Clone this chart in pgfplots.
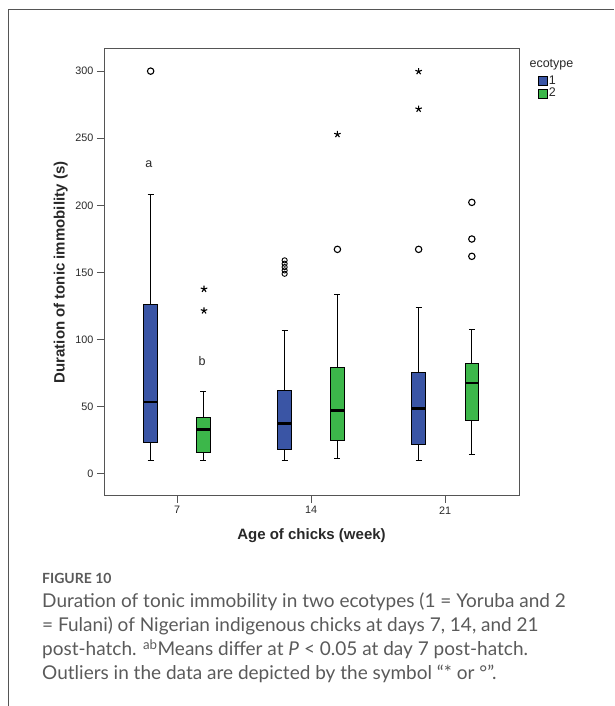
\documentclass[border=0pt]{standalone}
\usepackage{fontspec}
\setmainfont{Liberation Sans}
\newfontfamily\capfont{Lato}
\usepackage{pgfplots}
\pgfplotsset{compat=1.18}
\definecolor{box1}{RGB}{58,85,165}
\definecolor{box2}{RGB}{60,183,74}
\definecolor{framegray}{RGB}{85,85,85}
\definecolor{tickgray}{RGB}{40,40,40}
\definecolor{capgray}{RGB}{90,90,90}
\begin{document}
\begin{tikzpicture}
\useasboundingbox (0pt,0pt) rectangle (614pt,706pt);
\draw[framegray, line width=1pt] (8pt,0pt) -- (8pt,696pt) -- (614pt,696pt);
\begin{axis}[
  at={(104pt,210pt)}, anchor=south west, scale only axis,
  width=415pt, height=447pt,
  xmin=-0.545, xmax=2.552, ymin=-16.6, ymax=316.5,
  xtick={0,1,2}, xticklabels={7,14,21},
  ytick={0,50,100,150,200,250,300},
  xtick pos=bottom, ytick pos=left, tick align=outside, major tick length=7pt,
  axis line style={framegray,line width=1pt},
  every tick/.style={framegray,line width=1pt},
  tick label style={font=\fontsize{10.8}{12}\selectfont, text=tickgray},
  /pgf/number format/assume math mode=true,
  xlabel={Age of chicks (week)}, ylabel={Duration of tonic immobility (s)},
  label style={font=\bfseries\fontsize{15}{17}\selectfont, text=tickgray},
  xlabel style={at={(axis description cs:0.5,-0.088)}, anchor=center},
  ylabel style={at={(axis description cs:-0.104,0.5)}, anchor=center},
  clip=false,
  unbounded coords=jump,
  legend style={at={(axis description cs:1.045,0.942)}, anchor=north west, draw=none, fill=none,
    inner sep=0pt, row sep=0pt, font=\fontsize{12.5}{12.5}\selectfont,
    nodes={inner sep=1pt, text=tickgray}},
  legend cell align=left,
]
% ---------- whiskers with caps ----------
\addplot[black, line width=0.8pt, forget plot] coordinates {
  (-0.197,126.2) (-0.197,208) (nan,nan) (-0.2195,208) (-0.1745,208) (nan,nan)
  (-0.197,23.6) (-0.197,10) (nan,nan) (-0.2195,10) (-0.1745,10) (nan,nan)
  (0.197,42.2) (0.197,61.4) (nan,nan) (0.1745,61.4) (0.2195,61.4) (nan,nan)
  (0.197,16) (0.197,10) (nan,nan) (0.1745,10) (0.2195,10) (nan,nan)
  (0.803,61.9) (0.803,106.6) (nan,nan) (0.7805,106.6) (0.8255,106.6) (nan,nan)
  (0.803,18.2) (0.803,10) (nan,nan) (0.7805,10) (0.8255,10) (nan,nan)
  (1.197,79.3) (1.197,133.9) (nan,nan) (1.1745,133.9) (1.2195,133.9) (nan,nan)
  (1.197,24.9) (1.197,11.2) (nan,nan) (1.1745,11.2) (1.2195,11.2) (nan,nan)
  (1.803,75.6) (1.803,124) (nan,nan) (1.7805,124) (1.8255,124) (nan,nan)
  (1.803,22.1) (1.803,10) (nan,nan) (1.7805,10) (1.8255,10) (nan,nan)
  (2.2,82.5) (2.2,107.8) (nan,nan) (2.1775,107.8) (2.2225,107.8) (nan,nan)
  (2.2,39.5) (2.2,14.2) (nan,nan) (2.1775,14.2) (2.2225,14.2)
};
% ---------- boxes (Q1 to Q3) ----------
\addplot[fill=box1, draw=black, line width=0.7pt, forget plot] coordinates {(-0.249,23.6) (-0.145,23.6) (-0.145,126.2) (-0.249,126.2)} --cycle;
\addplot[fill=box2, draw=black, line width=0.7pt, forget plot] coordinates {(0.145,16) (0.249,16) (0.249,42.2) (0.145,42.2)} --cycle;
\addplot[fill=box1, draw=black, line width=0.7pt, forget plot] coordinates {(0.751,18.2) (0.855,18.2) (0.855,61.9) (0.751,61.9)} --cycle;
\addplot[fill=box2, draw=black, line width=0.7pt, forget plot] coordinates {(1.145,24.9) (1.249,24.9) (1.249,79.3) (1.145,79.3)} --cycle;
\addplot[fill=box1, draw=black, line width=0.7pt, forget plot] coordinates {(1.751,22.1) (1.855,22.1) (1.855,75.6) (1.751,75.6)} --cycle;
\addplot[fill=box2, draw=black, line width=0.7pt, forget plot] coordinates {(2.148,39.5) (2.252,39.5) (2.252,82.5) (2.148,82.5)} --cycle;
% ---------- medians ----------
\addplot[black, line width=2.4pt, forget plot] coordinates {
  (-0.249,53.4) (-0.145,53.4) (nan,nan)
  (0.145,33) (0.249,33) (nan,nan)
  (0.751,37.5) (0.855,37.5) (nan,nan)
  (1.145,47.2) (1.249,47.2) (nan,nan)
  (1.751,48.7) (1.855,48.7) (nan,nan)
  (2.148,67.4) (2.252,67.4)
};
% ---------- outliers: circles ----------
\addplot[only marks, forget plot, mark=o, mark size=3.2pt, black, line width=1.1pt] coordinates {
  (-0.197,300)
  (1.197,167.2)
  (1.803,167.2)
  (2.2,202.2) (2.2,174.9) (2.2,162)
};
\addplot[only marks, forget plot, mark=o, mark size=2.6pt, black, line width=0.9pt] coordinates {
  (0.803,159) (0.803,156.5) (0.803,154) (0.803,151.5) (0.803,149)
};
% ---------- outliers: stars ----------
\addplot[only marks, forget plot, mark=star, mark size=3.4pt, black, line width=1.1pt] coordinates {
  (0.2015,137.6) (0.2015,121.5)
  (1.197,252.9)
  (1.803,299.8) (1.803,271.8)
};
\node[font=\fontsize{12.5}{14}\selectfont, text=tickgray] at (axis cs:-0.21,231) {a};
\node[font=\fontsize{12.5}{14}\selectfont, text=tickgray] at (axis cs:0.187,84) {b};
\node[anchor=base west, font=\fontsize{12.5}{14}\selectfont, text=tickgray] at (axis description cs:1.0169,0.9575) {ecotype};
\addlegendimage{legend image code/.code={\draw[fill=box1,draw=black,line width=0.6pt] (0pt,-4.5pt) rectangle (9.5pt,4.5pt);}}
\addlegendentry{1}
\addlegendimage{legend image code/.code={\draw[fill=box2,draw=black,line width=0.6pt] (0pt,-4.5pt) rectangle (9.5pt,4.5pt);}}
\addlegendentry{2}
\end{axis}
\node[anchor=base west, font=\capfont\bfseries\fontsize{14}{16}\selectfont, text=capgray, inner sep=0pt] at (42pt,122pt) {FIGURE 10};
\node[anchor=base west, font=\capfont\fontsize{19}{22}\selectfont, text=capgray, inner sep=0pt] at (42pt,98pt) {Duration of tonic immobility in two ecotypes (1 = Yoruba and 2};
\node[anchor=base west, font=\capfont\fontsize{19}{22}\selectfont, text=capgray, inner sep=0pt] at (42pt,74pt) {= Fulani) of Nigerian indigenous chicks at days 7, 14, and 21};
\node[anchor=base west, font=\capfont\fontsize{19}{22}\selectfont, text=capgray, inner sep=0pt] at (42pt,50pt) {post-hatch. \textsuperscript{ab}Means differ at {\itshape P} < 0.05 at day 7 post-hatch.};
\node[anchor=base west, font=\capfont\fontsize{19}{22}\selectfont, text=capgray, inner sep=0pt] at (42pt,27pt) {Outliers in the data are depicted by the symbol “* or °”.};
\end{tikzpicture}
\end{document}
